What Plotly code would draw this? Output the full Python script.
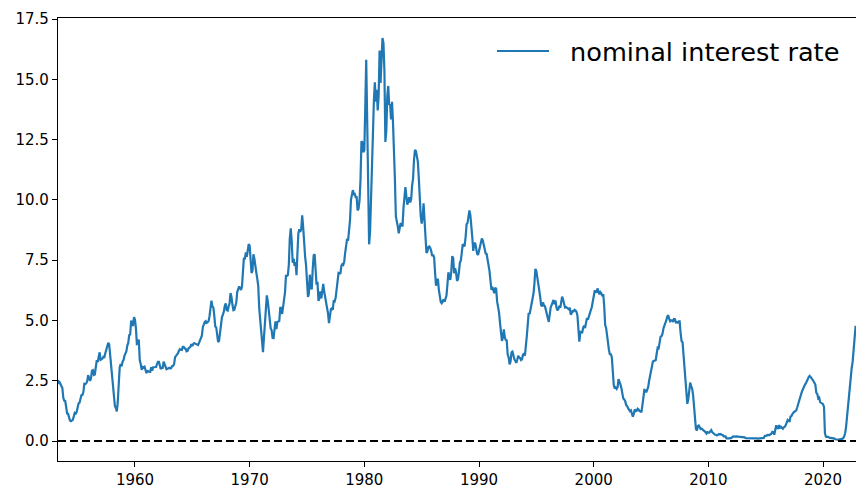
import pandas as pd
import plotly.graph_objects as go

# Monthly one-year nominal interest rate (percent), April 1953 onwards
start_month = "1953-04-01"
rate_1950s = [
    2.36, 2.48, 2.45, 2.38, 2.28, 2.20, 1.79, 1.67, 1.66,
    1.41, 1.14, 1.13, 0.96, 0.85, 0.82, 0.84, 0.88, 1.03, 1.17, 1.14, 1.21,
    1.39, 1.57, 1.59, 1.75, 1.90, 1.91, 2.02, 2.37, 2.36, 2.39, 2.48, 2.73,
    2.58, 2.49, 2.61, 2.92, 2.94, 2.74, 2.76, 3.10, 3.35, 3.28, 3.44, 3.68,
    3.37, 3.38, 3.42, 3.49, 3.48, 3.65, 3.81, 4.01, 4.07, 4.01, 3.57, 3.18,
    2.65, 1.99, 1.84, 1.45, 1.37, 1.23, 1.61, 2.50, 3.05, 3.19, 3.10, 3.29,
    3.36, 3.54, 3.61, 3.72, 3.96, 4.07, 4.39, 4.42, 5.00, 4.80, 4.81, 5.14,
]
rate_1960s = [
    5.03, 4.66, 4.02, 4.04, 4.21, 3.36, 3.20, 2.95, 3.07, 3.04, 3.08, 2.86,
    2.81, 2.93, 2.88, 2.88, 2.87, 3.06, 2.92, 3.06, 3.06, 3.05, 3.07, 3.18,
    3.28, 3.28, 3.06, 2.99, 3.03, 3.03, 3.29, 3.20, 3.06, 2.98, 3.00, 3.01,
    3.04, 3.01, 3.03, 3.11, 3.12, 3.20, 3.48, 3.53, 3.57, 3.64, 3.74, 3.81,
    3.79, 3.78, 3.91, 3.91, 3.84, 3.83, 3.72, 3.74, 3.84, 3.86, 3.91, 4.02,
    3.94, 4.03, 4.06, 4.04, 4.03, 3.99, 3.98, 4.07, 4.20, 4.30, 4.37, 4.72,
    4.88, 4.94, 4.97, 4.90, 4.93, 4.97, 5.17, 5.54, 5.82, 5.58, 5.54, 5.20,
    4.75, 4.71, 4.35, 4.11, 4.15, 4.48, 5.01, 5.13, 5.24, 5.37, 5.61, 5.71,
    5.43, 5.41, 5.58, 5.71, 6.14, 5.98, 5.65, 5.43, 5.45, 5.57, 5.75, 6.19,
    6.34, 6.41, 6.34, 6.26, 6.42, 7.04, 7.60, 7.54, 7.82, 7.64, 7.89, 8.17,
]
rate_1970s = [
    8.10, 7.59, 6.97, 7.06, 7.75, 7.55, 7.10, 6.98, 6.73, 6.43, 5.51, 5.00,
    4.57, 3.89, 3.69, 4.30, 5.04, 5.64, 6.04, 5.80, 5.41, 4.91, 4.67, 4.60,
    4.28, 4.27, 4.67, 4.96, 4.64, 4.93, 4.96, 4.98, 5.52, 5.52, 5.27, 5.52,
    5.89, 6.19, 6.85, 6.85, 6.89, 7.31, 8.39, 8.82, 8.31, 7.40, 7.57, 7.27,
    7.42, 6.88, 7.76, 8.62, 8.78, 8.67, 8.80, 9.36, 8.87, 8.05, 7.66, 7.31,
    6.83, 5.98, 6.11, 6.90, 6.39, 6.29, 7.11, 7.70, 7.75, 6.95, 6.49, 6.60,
    5.81, 5.91, 6.21, 5.92, 6.40, 6.52, 6.20, 6.00, 5.84, 5.50, 5.29, 4.89,
    5.29, 5.47, 5.50, 5.44, 5.84, 5.80, 5.94, 6.37, 6.53, 6.97, 6.95, 6.96,
    7.28, 7.34, 7.31, 7.45, 7.82, 8.09, 8.39, 8.31, 8.64, 9.14, 10.01, 10.30,
    10.41, 10.24, 10.25, 10.12, 10.12, 9.57, 9.64, 9.98, 10.84, 12.44, 12.39, 11.98,
]
rate_1980s = [
    12.06, 13.92, 15.82, 13.30, 9.39, 8.16, 8.65, 10.24, 11.52, 12.49, 14.15, 14.88,
    14.08, 14.57, 13.71, 14.32, 16.20, 14.86, 15.72, 16.72, 16.52, 15.38, 12.41, 12.85,
    14.32, 14.73, 13.95, 13.98, 13.34, 14.07, 13.24, 11.43, 10.85, 9.32, 9.16, 8.91,
    8.62, 8.92, 9.04, 8.98, 8.90, 9.66, 10.20, 10.53, 10.16, 9.81, 9.94, 10.11,
    9.90, 10.04, 10.59, 10.90, 11.66, 12.08, 12.03, 11.82, 11.58, 10.90, 9.82, 9.33,
    9.02, 9.29, 9.86, 9.14, 8.46, 7.80, 7.86, 8.05, 8.07, 8.01, 7.88, 7.67,
    7.73, 7.61, 7.03, 6.44, 6.65, 6.73, 6.27, 5.93, 5.77, 5.72, 5.80, 5.87,
    5.78, 5.96, 6.03, 6.50, 7.00, 6.80, 6.68, 7.03, 7.67, 7.59, 6.96, 7.17,
    6.99, 6.64, 6.71, 7.01, 7.40, 7.49, 7.75, 8.17, 8.09, 8.11, 8.48, 8.99,
    9.05, 9.25, 9.57, 9.36, 8.98, 8.44, 7.89, 8.18, 8.22, 7.99, 7.77, 7.72,
]
rate_1990s = [
    7.92, 8.11, 8.35, 8.40, 8.32, 8.10, 7.94, 7.78, 7.76, 7.55, 7.31, 7.05,
    6.64, 6.27, 6.40, 6.24, 6.13, 6.36, 6.31, 5.78, 5.57, 5.33, 4.89, 4.38,
    4.15, 4.29, 4.63, 4.30, 4.19, 4.17, 3.60, 3.47, 3.18, 3.30, 3.68, 3.71,
    3.50, 3.39, 3.33, 3.24, 3.36, 3.54, 3.47, 3.44, 3.36, 3.39, 3.58, 3.61,
    3.54, 3.87, 4.32, 4.82, 5.31, 5.27, 5.48, 5.56, 5.76, 6.11, 6.54, 7.14,
    7.05, 6.70, 6.43, 6.27, 6.00, 5.64, 5.59, 5.75, 5.62, 5.59, 5.43, 5.31,
    5.09, 4.94, 5.34, 5.54, 5.64, 5.81, 5.85, 5.67, 5.83, 5.55, 5.42, 5.47,
    5.61, 5.53, 5.80, 5.99, 5.87, 5.69, 5.54, 5.56, 5.52, 5.46, 5.46, 5.53,
    5.24, 5.31, 5.39, 5.38, 5.44, 5.41, 5.36, 5.21, 4.71, 4.12, 4.53, 4.52,
    4.51, 4.70, 4.78, 4.69, 4.85, 5.10, 5.03, 5.20, 5.25, 5.43, 5.55, 5.84,
]
rate_2000s = [
    6.12, 6.22, 6.22, 6.15, 6.33, 6.17, 6.08, 6.18, 6.13, 6.01, 6.09, 5.60,
    4.81, 4.68, 4.30, 3.98, 3.78, 3.58, 3.62, 3.47, 2.82, 2.33, 2.18, 2.22,
    2.16, 2.23, 2.57, 2.48, 2.35, 2.20, 1.96, 1.76, 1.72, 1.65, 1.49, 1.45,
    1.36, 1.30, 1.24, 1.27, 1.18, 1.01, 1.12, 1.31, 1.24, 1.25, 1.34, 1.31,
    1.24, 1.24, 1.19, 1.43, 1.78, 2.12, 2.10, 2.02, 2.12, 2.23, 2.50, 2.67,
    2.86, 3.03, 3.30, 3.32, 3.33, 3.36, 3.64, 3.87, 3.85, 4.18, 4.33, 4.35,
    4.45, 4.68, 4.77, 4.90, 5.00, 5.16, 5.22, 5.08, 4.97, 5.01, 5.01, 4.94,
    5.06, 5.05, 4.92, 4.93, 4.91, 4.96, 4.96, 4.47, 4.14, 4.10, 3.50, 3.26,
    2.71, 2.05, 1.54, 1.74, 2.06, 2.42, 2.28, 2.18, 1.91, 1.42, 1.07, 0.49,
    0.44, 0.62, 0.64, 0.55, 0.50, 0.51, 0.48, 0.46, 0.40, 0.37, 0.31, 0.37,
]
rate_2010s = [
    0.35, 0.35, 0.40, 0.45, 0.37, 0.32, 0.29, 0.26, 0.26, 0.23, 0.25, 0.29,
    0.27, 0.29, 0.26, 0.25, 0.19, 0.18, 0.19, 0.11, 0.10, 0.11, 0.11, 0.12,
    0.12, 0.16, 0.19, 0.18, 0.19, 0.19, 0.19, 0.18, 0.18, 0.18, 0.18, 0.16,
    0.15, 0.16, 0.15, 0.12, 0.12, 0.14, 0.12, 0.13, 0.12, 0.12, 0.12, 0.13,
    0.12, 0.12, 0.13, 0.11, 0.10, 0.10, 0.11, 0.11, 0.11, 0.10, 0.13, 0.21,
    0.20, 0.22, 0.25, 0.23, 0.24, 0.28, 0.30, 0.38, 0.37, 0.26, 0.48, 0.65,
    0.54, 0.53, 0.66, 0.56, 0.59, 0.55, 0.51, 0.57, 0.59, 0.66, 0.74, 0.87,
    0.83, 0.82, 1.01, 1.04, 1.12, 1.20, 1.22, 1.23, 1.28, 1.40, 1.56, 1.70,
    1.80, 1.96, 2.06, 2.15, 2.27, 2.33, 2.39, 2.45, 2.56, 2.65, 2.70, 2.66,
    2.58, 2.55, 2.49, 2.42, 2.34, 2.00, 1.96, 1.77, 1.80, 1.61, 1.57, 1.55,
]
rate_2020s = [
    1.53, 1.41, 0.33, 0.18, 0.16, 0.18, 0.15, 0.13, 0.13, 0.13, 0.12, 0.10,
    0.10, 0.07, 0.08, 0.06, 0.05, 0.07, 0.08, 0.07, 0.08, 0.11, 0.18, 0.30,
    0.55, 1.00, 1.34, 1.89, 2.06, 2.65, 3.02, 3.28, 3.89, 4.43, 4.73, 4.72,
]

rate = rate_1950s + rate_1960s + rate_1970s + rate_1980s + rate_1990s + rate_2000s + rate_2010s + rate_2020s
dates = pd.date_range(start_month, periods=len(rate), freq="MS")

y_ticks = [0.0, 2.5, 5.0, 7.5, 10.0, 12.5, 15.0, 17.5]
x_tick_years = [1960, 1970, 1980, 1990, 2000, 2010, 2020]
legend_label = "nominal interest rate"

blue = "#1f77b4"
font_family = "DejaVu Sans, Liberation Sans, sans-serif"

fig = go.Figure()
fig.add_trace(go.Scatter(
    x=dates, y=rate, mode="lines",
    line=dict(color=blue, width=2.2),
    name=legend_label, showlegend=False, hoverinfo="x+y",
))

# zero reference line
fig.add_shape(
    type="line", xref="paper", x0=0, x1=1, yref="y", y0=0, y1=0,
    line=dict(color="black", width=2.2, dash="8px,4px"), layer="above",
)

# legend: sample line and label in the upper right corner
fig.add_shape(
    type="line", xref="paper", yref="paper",
    x0=(497 - 58) / 798, x1=(549 - 58) / 798, y0=(461 - 51) / 443, y1=(461 - 51) / 443,
    line=dict(color=blue, width=2.2),
)
fig.add_annotation(
    text=legend_label, xref="paper", yref="paper",
    x=(568 - 58) / 798, y=(461 - 52) / 443, xanchor="left", yanchor="middle",
    showarrow=False, font=dict(family=font_family, size=25.6, color="black"),
)

fig.update_layout(
    width=856, height=489,
    margin=dict(l=58, r=0, t=18, b=28),
    paper_bgcolor="white", plot_bgcolor="white",
    font=dict(family=font_family, size=15, color="black"),
    showlegend=False,
)
fig.update_xaxes(
    range=["1953-04-15", "2022-11-16"],
    tickvals=[pd.Timestamp(f"{y}-01-01") for y in x_tick_years],
    ticktext=[str(y) for y in x_tick_years],
    showgrid=False, zeroline=False,
    showline=True, linecolor="black", linewidth=1.2, mirror=True,
    ticks="outside", ticklen=5, tickwidth=1.2, tickcolor="black",
)
fig.update_yaxes(
    range=[-0.83, 17.55],
    tickvals=y_ticks, ticktext=[f"{v:.1f}" for v in y_ticks],
    showgrid=False, zeroline=False,
    showline=True, linecolor="black", linewidth=1.2,
    ticks="outside", ticklen=5, tickwidth=1.2, tickcolor="black",
)

fig.write_html("out.html")
